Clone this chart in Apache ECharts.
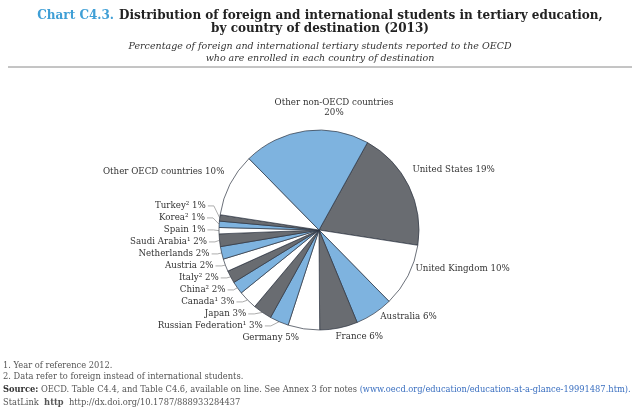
<!DOCTYPE html>
<html>
<head>
<meta charset="utf-8">
<script src="https://cdn.jsdelivr.net/npm/echarts@6/dist/echarts.min.js"></script>
<style>
  html, body { margin: 0; padding: 0; background: #fff; }
  #chart { width: 640px; height: 412px; }
</style>
</head>
<body>
<div id="chart"></div>
<script>
// Destinations, clockwise from the top
const countries = [
  'United States', 'United Kingdom', 'Australia', 'France', 'Germany',
  'Russian Federation\u00b9', 'Japan', 'Canada\u00b9', 'China\u00b2', 'Italy\u00b2',
  'Austria', 'Netherlands', 'Saudi Arabia\u00b9', 'Spain', 'Korea\u00b2',
  'Turkey\u00b2', 'Other OECD countries', 'Other non-OECD countries'
];
// Share of foreign and international tertiary students (%)
const shares = [19, 10, 6, 6, 5, 3, 3, 3, 2, 2, 2, 2, 2, 1, 1, 1, 10, 20];

const footnotes = [
  '1. Year of reference 2012.',
  '2. Data refer to foreign instead of international students.'
];

const SERIF = '"DejaVu Serif", "Liberation Serif", serif';
const palette = ['#696c71', '#ffffff', '#7eb3df'];

// Pie geometry
const CX = 319, CY = 230, R = 100;

// Small hand nudges for a few outside labels (px)
const labelNudge = {
  'United States': [-4, -15],
  'United Kingdom': [0, -9],
  'France': [-8, 5]
};

const data = countries.map((name, i) => {
  const big = shares[i] >= 5;
  return {
    name: name,
    value: shares[i],
    itemStyle: { color: palette[i % 3] },
    labelLine: big ? { show: false, length: 4, length2: 2 } : { show: true }
  };
});

const chart = echarts.init(document.getElementById('chart'), null, { renderer: 'canvas' });

chart.setOption({
  backgroundColor: '#ffffff',
  animation: false,
  title: [
    {
      text: '{a|Chart C4.3.} {b|Distribution of foreign and international students in tertiary education,}',
      left: 'center',
      top: 2,
      textStyle: {
        rich: {
          a: { fontFamily: SERIF, fontSize: 12, color: '#3f9fd6' },
          b: { fontFamily: SERIF, fontSize: 12, fontWeight: 'bold', color: '#222' }
        }
      }
    },
    {
      text: 'by country of destination (2013)',
      left: 'center',
      top: 18,
      textStyle: { fontFamily: SERIF, fontSize: 12, fontWeight: 'bold', color: '#222' }
    },
    {
      text: 'Percentage of foreign and international tertiary students reported to the OECD\nwho are enrolled in each country of destination',
      left: 'center',
      top: 36,
      textStyle: {
        fontFamily: SERIF, fontStyle: 'italic', fontSize: 9.5,
        fontWeight: 'normal', color: '#333', lineHeight: 12, align: 'center'
      }
    }
  ],
  graphic: [
    {
      type: 'line',
      shape: { x1: 8, y1: 67, x2: 632, y2: 67 },
      style: { stroke: '#8a8a8a', lineWidth: 1 }
    },
    {
      type: 'text', left: 3, top: 362,
      style: { text: footnotes[0], font: '8.3px ' + SERIF, fill: '#555' }
    },
    {
      type: 'text', left: 3, top: 373,
      style: { text: footnotes[1], font: '8.3px ' + SERIF, fill: '#555' }
    },
    {
      type: 'text', left: 3, top: 386,
      style: {
        text: '{s|Source:} OECD. Table C4.4, and Table C4.6, available on line. See Annex 3 for notes {u|(www.oecd.org/education/education-at-a-glance-19991487.htm).}',
        font: '8.3px ' + SERIF, fill: '#555',
        rich: {
          s: { font: 'bold 8.3px ' + SERIF, fill: '#333' },
          u: { font: '8.3px ' + SERIF, fill: '#3a6fc0', textDecoration: 'underline' }
        }
      }
    },
    {
      type: 'text', left: 3, top: 399,
      style: {
        text: 'StatLink  {k|http}  http://dx.doi.org/10.1787/888933284437',
        font: '8.3px ' + SERIF, fill: '#555',
        rich: { k: { font: 'bold 8.3px ' + SERIF, fill: '#555' } }
      }
    }
  ],
  series: [
    {
      type: 'pie',
      center: [CX, CY],
      radius: R,
      startAngle: 61,
      clockwise: true,
      avoidLabelOverlap: true,
      data: data,
      itemStyle: { borderColor: '#2c3440', borderWidth: 0.7 },
      label: {
        show: true,
        position: 'outside',
        fontFamily: SERIF,
        fontSize: 8.7,
        color: '#333',
        formatter: p => p.name === 'Other non-OECD countries'
          ? p.name + '\n' + p.value + '%'
          : p.name + ' ' + p.value + '%',
        lineHeight: 10,
        distanceToLabelLine: 2
      },
      labelLine: {
        show: true,
        length: 8,
        length2: 6,
        lineStyle: { color: '#8a8a8a', width: 0.7 }
      },
      labelLayout: function (p) {
        const name = countries[p.dataIndex];
        if (name === 'Other non-OECD countries') {
          return { x: CX + 15, y: CY - R - 22, align: 'center', verticalAlign: 'middle' };
        }
        const rect = p.labelRect;
        const isLeft = rect.x + rect.width / 2 < CX;
        let dx = 0, dy = 0;
        if (isLeft) {
          dy = -11;
        } else if (labelNudge[name]) {
          dx = labelNudge[name][0];
          dy = labelNudge[name][1];
        }
        const out = { dx: dx, dy: dy };
        const pts = p.labelLinePoints;
        if (pts && pts.length === 3) {
          out.labelLinePoints = [
            pts[0],
            [pts[1][0] + dx, pts[1][1] + dy],
            [pts[2][0] + dx, pts[2][1] + dy]
          ];
        }
        return out;
      },
      emphasis: { disabled: true }
    }
  ]
});
</script>
</body>
</html>
